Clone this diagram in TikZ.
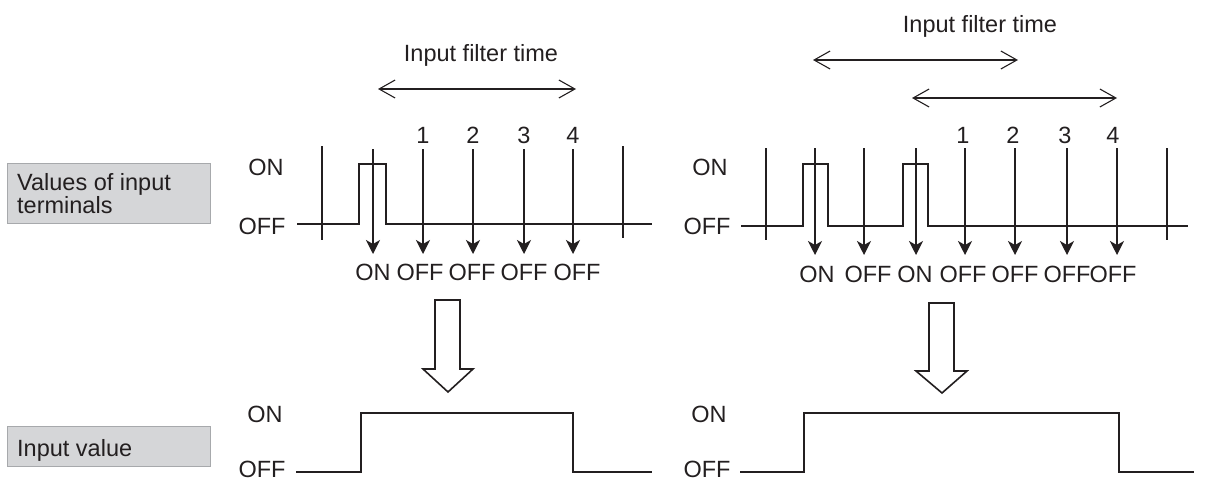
\documentclass[tikz,border=0pt]{standalone}
\usepackage{fontspec}
\setmainfont{Liberation Sans}
\usetikzlibrary{arrows.meta}
\definecolor{txt}{HTML}{231F20}
\definecolor{boxfill}{HTML}{D5D6D8}
\definecolor{boxline}{HTML}{A7A9AC}
\begin{document}
\begin{tikzpicture}[x=1pt,y=-1pt,
  lbl/.style={font=\fontsize{23.5}{22}\selectfont, text=txt, inner sep=0pt, anchor=base},
  gridline/.style={line width=1.3pt, draw=txt},
  wave/.style={line width=2.8pt, draw=txt, line join=miter},
  sample/.style={line width=1.3pt, draw=txt, -{Stealth[length=14pt,width=14pt,inset=4pt]}},
  span/.style={line width=1.1pt, draw=txt, {Straight Barb[length=16pt,width=18pt]}-{Straight Barb[length=16pt,width=18pt]}},
  bigarrow/.style={line width=1.6pt, draw=txt, fill=white, line join=miter},
  tag/.style={draw=boxline, fill=boxfill, line width=1.3pt, inner sep=0pt, anchor=north west}
]
\useasboundingbox (0,0) rectangle (1205,482);

% ---------- tag boxes ----------
\node[tag, minimum width=203pt, minimum height=60pt] (tagA) at (7,163) {};
\node[lbl, anchor=base west] (tagAt1) at (17,190) {Values of input};
\node[lbl, anchor=base west] (tagAt2) at (17,213) {terminals};
\node[tag, minimum width=203pt, minimum height=40pt] (tagB) at (7,426) {};
\node[lbl, anchor=base west] (tagBt) at (17,456) {Input value};

% ---------- left panel ----------
\node[lbl] (titleL) at (481,61) {Input filter time};
\coordinate (spLa) at (378,89);
\coordinate (spLb) at (576,89);
\draw[span] (spLa) -- (spLb);

\node[lbl] (onL) at (266,175) {ON};
\node[lbl] (offL) at (262,234) {OFF};
\draw[gridline] (322,146) -- (322,240);
\draw[gridline] (623,146) -- (623,238);
\draw[wave] (297,224) -- (359,224) -- (359,164) -- (386,164) -- (386,224) -- (652,224);

\foreach \n/\x in {1/423,2/473,3/524,4/573}{
  \node[lbl] (numL\n) at (\x,143) {\n};
}
\foreach \i/\x in {0/373,1/423,2/473,3/524,4/573}{
  \coordinate (sLa\i) at (\x,149);
  \coordinate (sLb\i) at (\x,254);
  \draw[sample] (sLa\i) -- (sLb\i);
}
\node[lbl] (vL0) at (373,280) {ON};
\node[lbl] (vL1) at (420,280) {OFF};
\node[lbl] (vL2) at (472,280) {OFF};
\node[lbl] (vL3) at (524,280) {OFF};
\node[lbl] (vL4) at (577,280) {OFF};

\draw[bigarrow] (435,300) -- (460,300) -- (460,369) -- (473,369) -- (448,392) -- (423,369) -- (435,369) -- cycle;

\node[lbl] (onLb) at (265,422) {ON};
\node[lbl] (offLb) at (262,477) {OFF};
\draw[wave] (296,472) -- (361,472) -- (361,413) -- (573,413) -- (573,472) -- (652,472);

% ---------- right panel ----------
\node[lbl] (titleR) at (980,32) {Input filter time};
\coordinate (spRa) at (813,60);
\coordinate (spRb) at (1018,60);
\draw[span] (spRa) -- (spRb);
\coordinate (spRc) at (912,98);
\coordinate (spRd) at (1117,98);
\draw[span] (spRc) -- (spRd);

\node[lbl] (onR) at (710,175) {ON};
\node[lbl] (offR) at (707,234) {OFF};
\draw[gridline] (766,148) -- (766,240);
\draw[gridline] (1167,148) -- (1167,240);
\draw[wave] (741,226) -- (803,226) -- (803,164) -- (828,164) -- (828,226) -- (903,226) -- (903,164) -- (928,164) -- (928,226) -- (1188,226);

\foreach \n/\x in {1/963,2/1013,3/1065,4/1113}{
  \node[lbl] (numR\n) at (\x,143) {\n};
}
\foreach \i/\x in {0/815,1/864,2/916,3/965,4/1015,5/1067,6/1117}{
  \coordinate (sRa\i) at (\x,148);
  \coordinate (sRb\i) at (\x,255);
  \draw[sample] (sRa\i) -- (sRb\i);
}
\node[lbl] (vR0) at (817,282) {ON};
\node[lbl] (vR1) at (868,282) {OFF};
\node[lbl] (vR2) at (915,282) {ON};
\node[lbl] (vR3) at (963,282) {OFF};
\node[lbl] (vR4) at (1015,282) {OFF};
\node[lbl] (vR5) at (1067,282) {OFF};
\node[lbl] (vR6) at (1113,282) {OFF};

\draw[bigarrow] (929,303) -- (954,303) -- (954,371) -- (967,371) -- (942,393) -- (916,371) -- (929,371) -- cycle;

\node[lbl] (onRb) at (709,422) {ON};
\node[lbl] (offRb) at (707,477) {OFF};
\draw[wave] (740,472) -- (804,472) -- (804,413) -- (1119,413) -- (1119,472) -- (1194,472);
\end{tikzpicture}
\end{document}
